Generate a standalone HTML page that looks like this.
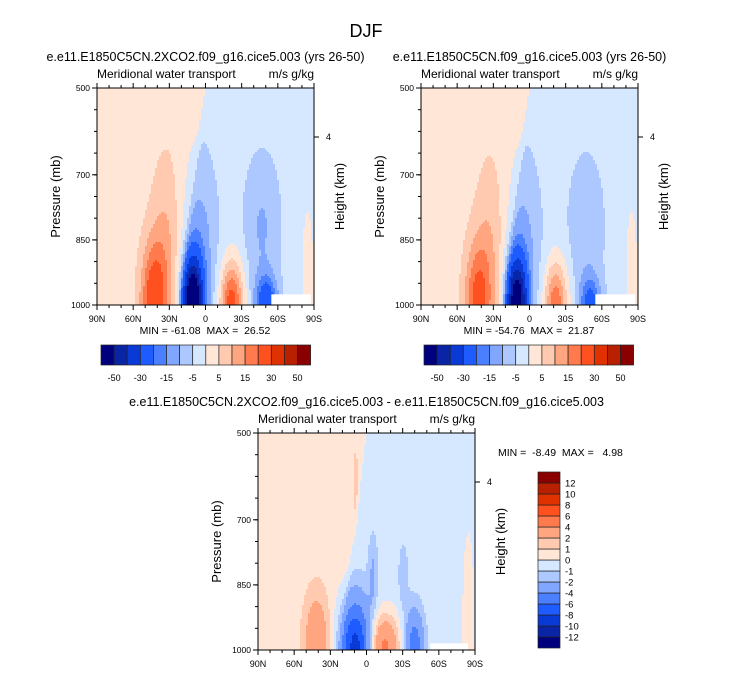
<!DOCTYPE html>
<html><head><meta charset="utf-8"><style>
body{margin:0;background:#fff;font-family:"Liberation Sans",sans-serif;}
svg text{font-family:"Liberation Sans",sans-serif;white-space:pre;}
</style></head><body>
<svg id="s" width="733" height="673" xmlns="http://www.w3.org/2000/svg">
<text x="366" y="37" font-size="18" text-anchor="middle">DJF</text>
</svg>
<script>
// ---- data ----
const latLabels = ["90N","60N","30N","0","30S","60S","90S"];
const pTicks = [500,700,850,1000];
const levelsMain = [-50,-40,-30,-20,-15,-10,-5,0,5,10,15,20,30,40,50];
const levelsDiff = [-12,-10,-8,-6,-4,-2,-1,0,1,2,4,6,8,10,12];
const colorsMain = ["#00007f","#0a24a6","#0a3ad6","#1e5cff","#4a80ff","#80a6ff","#acc8ff","#d6e8ff","#ffe6d6","#ffcab0","#ffa680","#ff7a4c","#ff5020","#e03200","#b82000","#8a0000"];
// blobs: u (0=90N,1=90S), pressure center, amplitude, u-width, p-width
const blobU1 = [0.26,0.32,0.44,0.47,0.62,0.78,0.76,0.97];
const blobP1 = [1000,880,1000,880,1000,1000,820,930];
const blobA1 = [22,8,-61,-10,26.5,-25,-8,4];
const blobSU1= [0.042,0.05,0.033,0.06,0.038,0.035,0.06,0.025];
const blobSP1= [100,160,75,160,70,45,120,150];
const blobU2 = [0.26,0.32,0.44,0.47,0.62,0.78,0.76,0.97];
const blobP2 = [1000,880,1000,880,1000,1000,820,930];
const blobA2 = [19,7,-54.8,-9,21.9,-20,-7,4];
const blobSU2= blobSU1, blobSP2=blobSP1;
const blobU3 = [0.27,0.45,0.58,0.72,0.53,0.45,0.67,0.97];
const blobP3 = [985,1000,990,995,820,620,830,930];
const blobA3 = [3.2,-8.5,4.98,-5,-1.6,0.8,-1.4,1.2];
const blobSU3= [0.04,0.05,0.05,0.03,0.015,0.01,0.015,0.02];
const blobSP3= [80,80,50,60,60,80,50,150];
const stats = ["MIN = -61.08  MAX =  26.52","MIN = -54.76  MAX =  21.87","MIN =  -8.49  MAX =   4.98"];

const NS="http://www.w3.org/2000/svg";
const svg=document.getElementById('s');
function el(t,a,p){const e=document.createElementNS(NS,t);for(const k in a)e.setAttribute(k,a[k]);(p||svg).appendChild(e);return e;}
function txt(x,y,s,sz,anc,p){const t=el('text',{x:x,y:y,'font-size':sz,'text-anchor':anc||'start'},p);t.textContent=s;return t;}

function panel(X,Y,W,H,U,P,A,SU,SP,baseAmp,levels,mask,sub,name){
  const g=el('g',{});
  
  
  const xs=u=>X+u*W, ys=p=>Y+(p-500)/500*H;
  const c=2, nx=Math.ceil(W/c), ny=Math.ceil(H/c);
  for(let j=0;j<ny;j++)for(let i=0;i<nx;i++){
    const u=(i+0.5)*c/W, p=500+(j+0.5)*c/H*500;
    if(u>mask[0]&&u<mask[1]&&p>mask[2]) continue;
    const t=(p-500)/500, u0=0.5-0.12*t;
    let v=baseAmp*Math.tanh((u0-u)/0.01);
    for(let k=0;k<U.length;k++){const du=(u-U[k])/SU[k],dp=(p-P[k])/SP[k];v+=A[k]*Math.exp(-0.5*(du*du+dp*dp));}
    let idx=0;while(idx<levels.length&&v>levels[idx])idx++;
    el('rect',{x:X+i*c,y:Y+j*c,width:Math.min(c,X+W-(X+i*c))+0.3,height:Math.min(c,Y+H-(Y+j*c))+0.3,fill:colorsMain[idx]},g);
  }
  el('rect',{x:X,y:Y,width:W,height:H,fill:'none',stroke:'#000','stroke-width':1},g);
  for(let d=0;d<=180;d+=10){const x=xs(d/180),L=d%30==0?5:3;
    el('line',{x1:x,x2:x,y1:Y+H,y2:Y+H+L,stroke:'#000'},g);el('line',{x1:x,x2:x,y1:Y,y2:Y-L,stroke:'#000'},g);}
  latLabels.forEach((l,i)=>txt(xs(i/6),Y+H+17,l,9,'middle',g));
  pTicks.forEach(p=>{el('line',{x1:X,x2:X-5,y1:ys(p),y2:ys(p),stroke:'#000'},g);txt(X-7,ys(p)+3,String(p),8.5,'end',g);});
  for(let p=550;p<1000;p+=50){el('line',{x1:X,x2:X-3,y1:ys(p),y2:ys(p),stroke:'#000'},g);}
  const hy=Y+49; el('line',{x1:X+W,x2:X+W+5,y1:hy,y2:hy,stroke:'#000'},g); txt(X+W+12,hy+3,'4',9,'start',g);
  txt(X,Y-10,'Meridional water transport',12,'start',g);
  txt(X+W,Y-10,'m/s g/kg',12,'end',g);
  let t=txt(X-37,Y+H/2,'Pressure (mb)',13,'middle',g);t.setAttribute('transform',`rotate(-90 ${X-37} ${Y+H/2})`);
  t=txt(X+W+30,Y+H/2,'Height (km)',13,'middle',g);t.setAttribute('transform',`rotate(-90 ${X+W+30} ${Y+H/2})`);
  txt(X+W/2,Y-27,sub,12.5,'middle',g);
  return g;
}
function hbar(X,Y){
  const g=el('g',{});
  
  
  const w=13.1;
  colorsMain.forEach((c,i)=>el('rect',{x:X+i*w,y:Y,width:w,height:20,fill:c,stroke:'#222','stroke-width':0.7},g));
  levelsMain.forEach((l,i)=>{if(i%2==0)txt(X+(i+1)*w,Y+36,String(l),9,'middle',g);});
}
panel(97,88,217,217,blobU1,blobP1,blobA1,blobSU1,blobSP1,2.5,levelsMain,[0.8,0.99,975],"e.e11.E1850C5CN.2XCO2.f09_g16.cice5.003 (yrs 26-50)","panel-2xco2");
txt(205,334,stats[0],10.5,'middle');
hbar(101,345);
panel(421,88,217,217,blobU2,blobP2,blobA2,blobSU2,blobSP2,2.5,levelsMain,[0.8,0.99,975],"e.e11.E1850C5CN.f09_g16.cice5.003 (yrs 26-50)","panel-control");
txt(529,334,stats[1],10.5,'middle');
hbar(424,345);
panel(258,433,217,217,blobU3,blobP3,blobA3,blobSU3,blobSP3,0.5,levelsDiff,[0.79,0.97,985],"e.e11.E1850C5CN.2XCO2.f09_g16.cice5.003 - e.e11.E1850C5CN.f09_g16.cice5.003","panel-difference");
txt(498,456,stats[2],10.5,'start');
const vg=el('g',{});


const vh=11;
for(let i=0;i<16;i++){el('rect',{x:538,y:472+(15-i)*vh,width:22,height:vh,fill:colorsMain[i],stroke:'#222','stroke-width':0.7},vg);}
levelsDiff.forEach((l,i)=>txt(565,472+(15-i)*vh+3.5,String(l),9.5,'start',vg));
</script>
</body></html>
